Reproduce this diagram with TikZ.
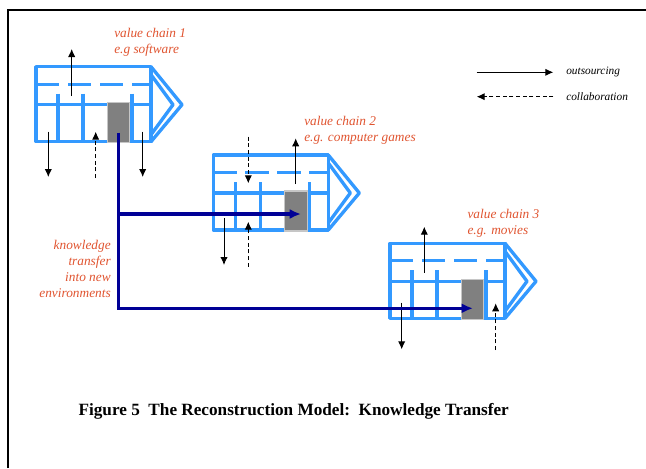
\documentclass[tikz,border=0pt]{standalone}
\usepackage{fontspec}
\setmainfont{Liberation Serif}
\usetikzlibrary{arrows.meta}
\definecolor{chainblue}{RGB}{51,153,255}
\definecolor{transferblue}{RGB}{0,0,150}
\definecolor{chainred}{RGB}{224,84,48}
\definecolor{coregray}{RGB}{128,128,128}
\tikzset{
  chainline/.style={draw=chainblue,line width=2.5pt,line join=round},
  core/.style={fill=coregray,draw=gray!45,line width=0.8pt,minimum width=17pt,minimum height=30pt,inner sep=0pt},
  chainlabel/.style={text=chainred,font=\fontsize{10}{12}\selectfont\itshape,align=left,inner sep=0pt},
  outsource/.style={draw=black,line width=0.7pt,-{Latex[length=6pt,width=5.5pt]}},
  collab/.style={outsource,dash pattern=on 3pt off 2pt},
  transfer/.style={draw=transferblue,line width=2.4pt,-{Latex[length=8.5pt,width=7.5pt]}},
  valuechain/.pic={
    \draw[chainline] (0,0) rectangle (115,75);
    \draw[chainline,line cap=butt,dash pattern=on 17.5pt off 6.5pt] (0,17.5) -- (115,17.5);
    \draw[chainline] (0,38) -- (115,38);
    \foreach \vx in {22,47,96}
      \draw[chainline] (\vx,27) -- (\vx,75);
    \draw[chainline] (115,0) -- (146,38) -- (115,75);
    \draw[chainline] (115,8) -- (137,38) -- (115,68);
    \node[core] (-core) at (82.5,56) {};
  }
}
\begin{document}
\begin{tikzpicture}[x=0.75pt,y=-0.75pt]
\useasboundingbox (0,0) rectangle (646,468);
% frame
\draw[line width=1.5pt] (8,468) -- (8,10) -- (646,10);
% the three value chains
\pic (vc1) at (36,66.7) {valuechain};
\pic (vc2) at (213.3,155) {valuechain};
\pic (vc3) at (390,243.3) {valuechain};
\node[chainlabel,anchor=west] (lab1) at (114,42) {value chain 1\\e.g software};
\node[chainlabel,anchor=west] (lab2) at (304,130) {value chain 2\\e.g. computer games};
\node[chainlabel,anchor=west] (lab3) at (467.3,223.3) {value chain 3\\e.g. movies};
% outsourcing / collaboration arrows
\draw[outsource] (71.7,96) -- (71.7,49);
\draw[outsource] (48.3,131.7) -- (48.3,177);
\draw[collab] (95.7,178) -- (95.7,131.7);
\draw[outsource] (142.7,131.7) -- (142.7,177);
\draw[collab] (248.3,136.7) -- (248.3,183.3);
\draw[outsource] (295.7,184) -- (295.7,138.3);
\draw[outsource] (224,218.3) -- (224,265);
\draw[collab] (248.3,266.7) -- (248.3,221.7);
\draw[outsource] (424.3,272.7) -- (424.3,226.7);
\draw[outsource] (401.7,302.7) -- (401.7,349.3);
\draw[collab] (495.7,350) -- (495.7,303.3);
% knowledge transfer
\coordinate (t2) at (301,214);
\coordinate (t3) at (473,308.3);
\draw[transfer] ([yshift=8pt]vc1-core.south) |- (t3);
\draw[transfer] (vc1-core.center |- t2) -- (t2);
\node[chainlabel,align=right,anchor=east] (ktrans) at (111,268.7)
  {knowledge\\transfer\\into new\\environments};
% legend
\coordinate (o1) at (476.7,72.3);
\coordinate (o2) at (553.3,72.3);
\coordinate (c1) at (476.7,96.7);
\coordinate (c2) at (553.3,96.7);
\draw[outsource] (o1) -- (o2);
\draw[collab] (c2) -- (c1);
\node[anchor=west,inner sep=0pt,font=\fontsize{8.5}{10}\selectfont\itshape] (lout) at (566,72.3) {outsourcing};
\node[anchor=west,inner sep=0pt,font=\fontsize{8.5}{10}\selectfont\itshape] (lcol) at (566,96.7) {collaboration};
% caption
\node[anchor=west,inner sep=0pt,font=\fontsize{12.9}{15}\selectfont\bfseries] (caption) at (78.3,411.7)
  {Figure 5\ \ The Reconstruction Model:\ \ Knowledge Transfer};
\end{tikzpicture}
\end{document}
